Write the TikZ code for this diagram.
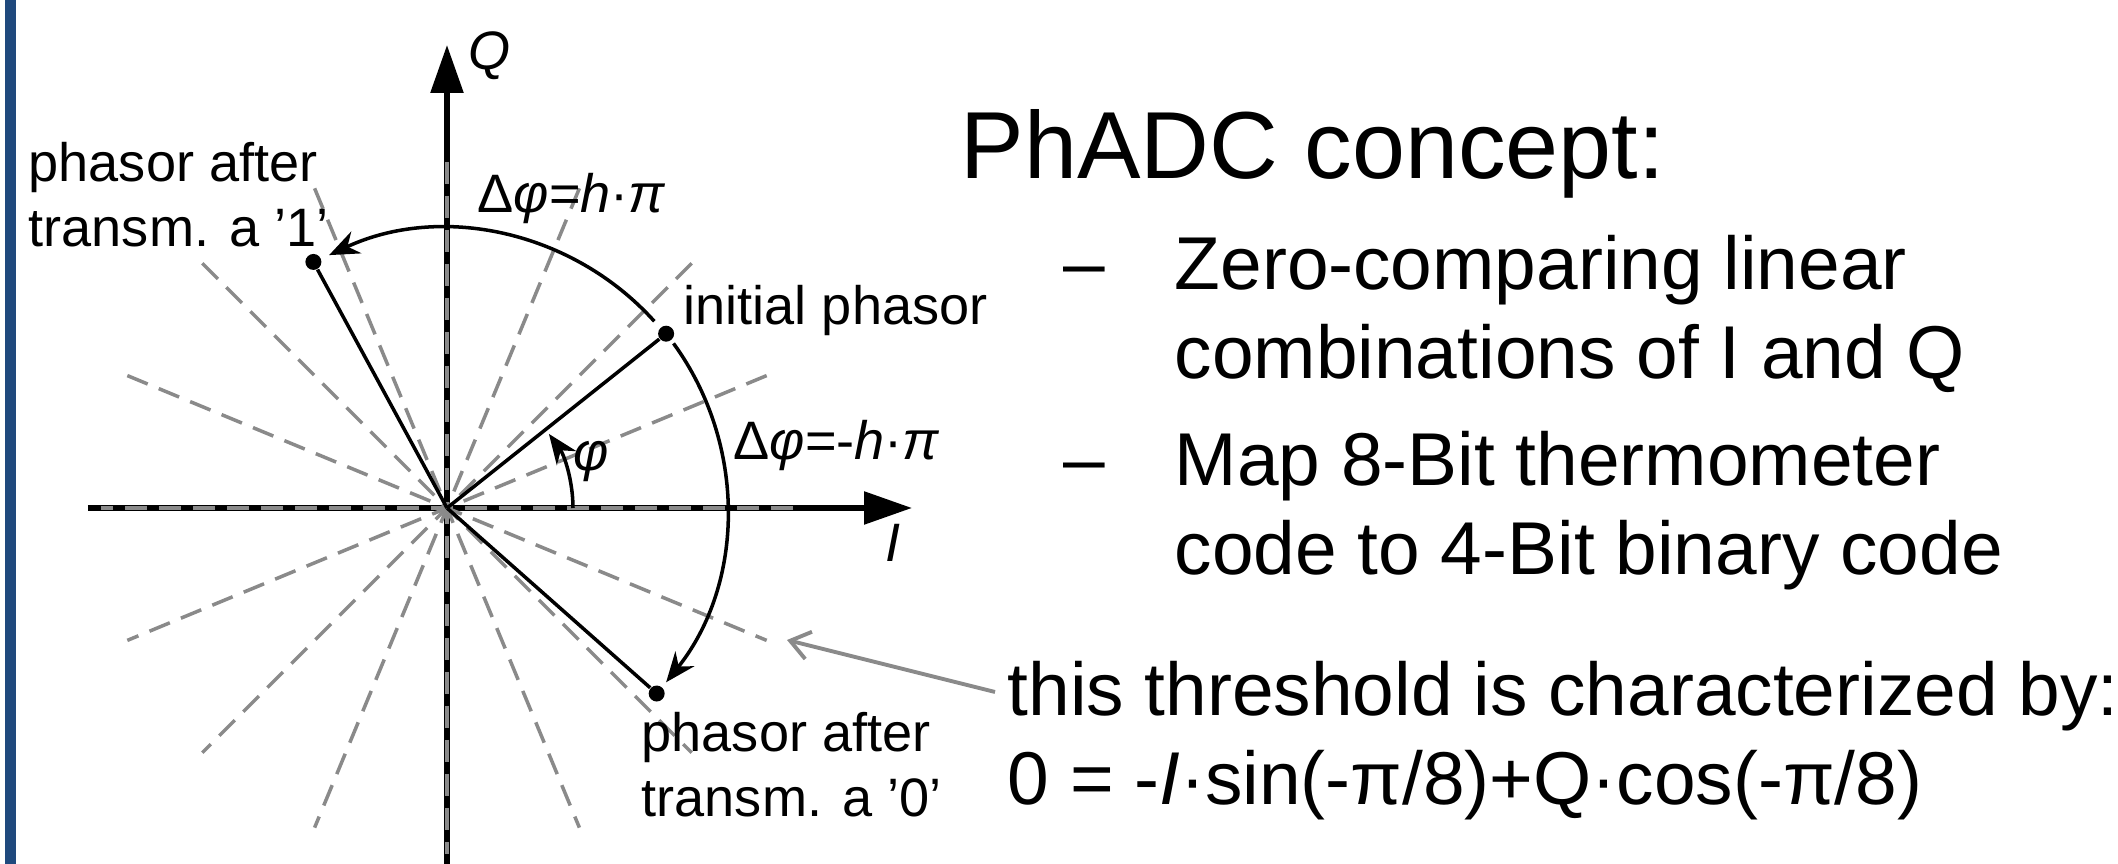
\documentclass[tikz,border=0pt]{standalone}
\usepackage{fontspec}
\setmainfont{Liberation Sans}
\usepackage{tikz}
\usetikzlibrary{arrows.meta,positioning,calc}
\definecolor{pdBar}{HTML}{1F497D}
\definecolor{pdThr}{HTML}{8A8A8A}
\newcommand{\pdLabelFont}{\fontsize{15.4}{18.5}\selectfont}
\newcommand{\pdBodyFont}{\fontsize{21.3}{25.6}\selectfont}
\newcommand{\pdHeadFont}{\fontsize{27.1}{32.5}\selectfont}
\tikzset{
    % Axes and thresholds
    pdAxis/.style={line width=1.6pt, -{Triangle[length=4.8mm,width=3.2mm]}},
    pdThreshold/.style={draw=pdThr, line width=1pt, dash pattern=on 2.2mm off 1.2mm},
    % Phasors
    pdPhasor/.style={line width=1pt},
    pdDot/.style={circle, fill, inner sep=0pt, minimum size=1.6mm},
    pdShift/.style={line width=1pt, -{Stealth[length=3mm,width=2.4mm]}},
    % Text (base west is the baseline of the last line)
    pdLabel/.style={font=\pdLabelFont, inner sep=0pt, align=left, anchor=base west},
    pdBody/.style={font=\pdBodyFont, inner sep=0pt, align=left, anchor=base west},
    pdPointer/.style={draw=pdThr, line width=1.1pt, -{Straight Barb[length=1.9mm,width=2.8mm]}}
}
\begin{document}
\begin{tikzpicture}
\useasboundingbox (-4.47,-3.56) rectangle (16.71,5.08);
\fill[pdBar] (-4.42,-3.56) rectangle (-4.31,5.08);

% I/Q plane
\coordinate (O) at (0,0);
\coordinate (iStart) at (-3.59,0);
\coordinate (iEnd) at (4.65,0);
\coordinate (qStart) at (0,-3.56);
\coordinate (qEnd) at (0,4.63);
\draw[pdAxis] (iStart) -- (iEnd);
\draw[pdAxis] (qStart) -- (qEnd);
\foreach \a in {0,22.5,...,157.5}
    \draw[pdThreshold] (\a:3.46) -- (\a+180:3.46);

% phasors
\node[pdDot] (init) at (38.5:2.8) {};
\node[pdDot] (one) at (118.5:2.8) {};
\node[pdDot] (zero) at (-41.5:2.8) {};
\draw[pdPhasor] (O) -- (init);
\draw[pdPhasor] (O) -- (one);
\draw[pdPhasor] (O) -- (zero);
\draw[pdShift] (42:2.79) arc[start angle=42, end angle=115, radius=2.79];
\draw[pdShift] (36:2.8) arc[start angle=36, end angle=-38.5, radius=2.8];
\draw[pdShift] (1.26,0) arc[start angle=0, end angle=36, radius=1.26];

% labels
\node[pdLabel] (qLab) at (0.21,4.38) {\textit{Q}};
\node[pdLabel] (iLab) at (4.38,-0.54) {\textit{I}};
\node[pdLabel] (phiLab) at (1.26,0.37) {\textit{φ}};
\node[pdLabel] (upShift) at (0.30,2.95) {Δ\textit{φ}=\textit{h}·\textit{π}};
\node[pdLabel] (downShift) at (2.86,0.48) {Δ\textit{φ}=-\textit{h}·\textit{π}};
\node[pdLabel] (initLab) at (2.36,1.83) {initial phasor};
\node[pdLabel] (oneLab) at (-4.19,2.61) {phasor after\\transm. a ’1’};
\node[pdLabel] (zeroLab) at (1.94,-3.09) {phasor after\\transm. a ’0’};

% concept text
\node[font=\pdHeadFont, inner sep=0pt, anchor=base west] (title) at (5.13,3.29) {PhADC concept:};
\node[pdBody] (dash1) at (6.16,2.19) {–};
\node[pdBody] (point1) at (7.27,1.29) {Zero-comparing linear\\combinations of I and Q};
\node[pdBody] (dash2) at (6.16,0.23) {–};
\node[pdBody] (point2) at (7.27,-0.67) {Map 8-Bit thermometer\\code to 4-Bit binary code};
\node[pdBody] (thrTxt) at (5.60,-2.97) {this threshold is characterized by:\\0 = -\textit{I}·sin(-π/8)+Q·cos(-π/8)};

\coordinate (thrTip) at (3.40,-1.32);
\draw[pdPointer] ($(thrTxt.base west)+(-0.12,1.13)$) -- (thrTip);
\end{tikzpicture}
\end{document}
